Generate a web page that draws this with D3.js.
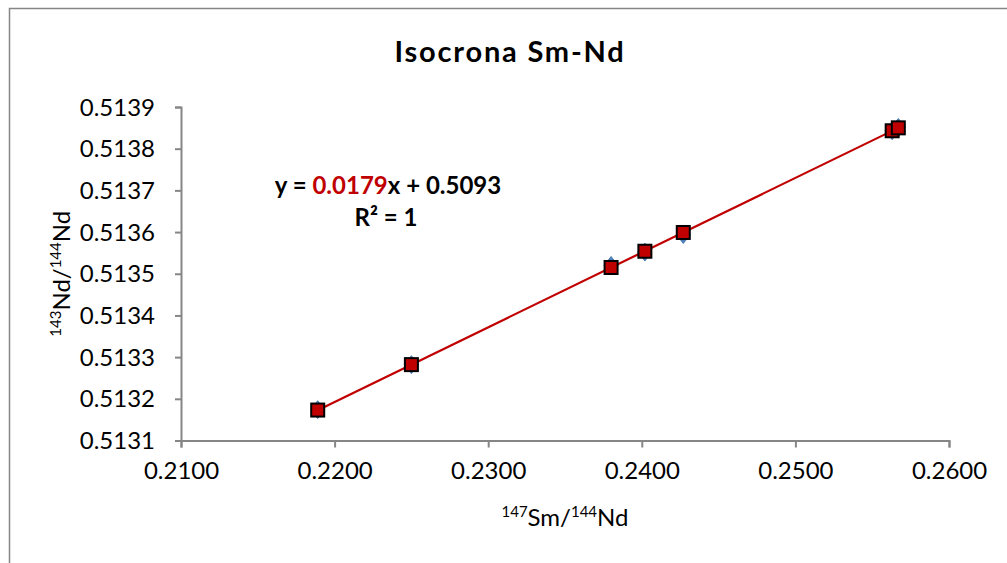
<!DOCTYPE html>
<html>
<head>
<meta charset="utf-8">
<script src="https://cdn.jsdelivr.net/npm/d3@7"></script>
<style>
  html, body { margin: 0; padding: 0; background: #ffffff; }
  svg { display: block; font-family: Lato, "Open Sans", sans-serif; }
</style>
</head>
<body>
<svg id="chart" width="1007" height="563"></svg>
<script>
// 147Sm/144Nd ratios of the analysed samples
const smNd = [0.2189, 0.2250, 0.2380, 0.2402, 0.2427, 0.2563, 0.2567];
// measured 143Nd/144Nd ratios
const ndMeasured = [0.513174, 0.513282, 0.513520, 0.513552, 0.513594, 0.513843, 0.513851];
// 143Nd/144Nd ratios on the isochron
const ndIsochron = [0.513173, 0.513282, 0.513515, 0.513554, 0.513599, 0.513843, 0.513850];

const xTicks = [0.21, 0.22, 0.23, 0.24, 0.25, 0.26];
const yTicks = [0.5131, 0.5132, 0.5133, 0.5134, 0.5135, 0.5136, 0.5137, 0.5138, 0.5139];

// equation label parts as printed
const eqSlope = "0.0179";
const eqIntercept = "0.5093";
const eqR2 = "1";

const svg = d3.select("#chart");
const W = 1007, H = 563;
const axisColor = "#868686";

// chart frame (runs off the right and bottom edges)
svg.append("rect")
  .attr("x", 9.5).attr("y", 8.5)
  .attr("width", W + 20).attr("height", H + 20)
  .attr("fill", "#fff").attr("stroke", axisColor).attr("stroke-width", 1.5);

const plot = { left: 181, right: 949, top: 107, bottom: 440.5 };

const x = d3.scaleLinear().domain([0.21, 0.26]).range([plot.left, plot.right]);
const y = d3.scaleLinear().domain([0.5131, 0.5139]).range([plot.bottom, plot.top]);

// title
svg.append("text")
  .attr("x", 510).attr("y", 62)
  .attr("text-anchor", "middle")
  .attr("font-size", 29).attr("font-weight", "bold").attr("fill", "#000")
  .attr("letter-spacing", 1.8)
  .text("Isocrona Sm-Nd");

// y axis
const yAxis = svg.append("g")
  .attr("transform", `translate(${plot.left},0)`)
  .call(d3.axisLeft(y).tickValues(yTicks).tickFormat(d3.format(".4f")).tickSize(6).tickPadding(20));
// x axis
const xAxis = svg.append("g")
  .attr("transform", `translate(0,${plot.bottom})`)
  .call(d3.axisBottom(x).tickValues(xTicks).tickFormat(d3.format(".4f")).tickSize(7).tickPadding(16));

[yAxis, xAxis].forEach(g => {
  g.select(".domain").attr("stroke", axisColor).attr("stroke-width", 2);
  g.selectAll(".tick line").attr("stroke", axisColor).attr("stroke-width", 2);
  g.selectAll(".tick text").attr("fill", "#000").attr("font-size", 24).attr("font-family", "Lato, sans-serif");
});
yAxis.selectAll(".tick text").attr("dy", "0.34em");
xAxis.selectAll(".tick text").attr("dy", "0.66em");

// axis titles with superscripted isotope masses
const xTitle = svg.append("text")
  .attr("x", (plot.left + plot.right) / 2).attr("y", 526)
  .attr("text-anchor", "middle").attr("font-size", 24).attr("fill", "#000");
xTitle.append("tspan").attr("font-size", 15).attr("dy", -9).text("147");
xTitle.append("tspan").attr("dy", 9).text("Sm/");
xTitle.append("tspan").attr("font-size", 15).attr("dy", -9).text("144");
xTitle.append("tspan").attr("dy", 9).text("Nd");

const yTitle = svg.append("text")
  .attr("transform", `translate(70,${(plot.top + plot.bottom) / 2}) rotate(-90)`)
  .attr("text-anchor", "middle").attr("font-size", 24).attr("fill", "#000");
yTitle.append("tspan").attr("font-size", 15).attr("dy", -9).text("143");
yTitle.append("tspan").attr("dy", 9).text("Nd/");
yTitle.append("tspan").attr("font-size", 15).attr("dy", -9).text("144");
yTitle.append("tspan").attr("dy", 9).text("Nd");

// least-squares isochron through the fitted points
const pts = smNd.map((v, i) => [v, ndIsochron[i]]);
const mx = d3.mean(smNd), my = d3.mean(ndIsochron);
const slope = d3.sum(pts, p => (p[0] - mx) * (p[1] - my)) / d3.sum(pts, p => (p[0] - mx) ** 2);
const intercept = my - slope * mx;
const [x0, x1] = d3.extent(smNd);

svg.append("line")
  .attr("x1", x(x0)).attr("y1", y(intercept + slope * x0))
  .attr("x2", x(x1)).attr("y2", y(intercept + slope * x1))
  .attr("stroke", "#C00000").attr("stroke-width", 2.2);

// measured points (diamonds)
svg.append("g").selectAll("path")
  .data(smNd.map((v, i) => [v, ndMeasured[i]]))
  .join("path")
  .attr("transform", d => `translate(${x(d[0])},${y(d[1])})`)
  .attr("d", "M0,-9L7,0L0,9L-7,0Z")
  .attr("fill", "#4F81BD").attr("stroke", "#3F6FA8").attr("stroke-width", 0.8);

// isochron points (squares)
svg.append("g").selectAll("rect")
  .data(pts)
  .join("rect")
  .attr("x", d => x(d[0]) - 6.5).attr("y", d => y(d[1]) - 6.5)
  .attr("width", 13).attr("height", 13)
  .attr("fill", "#C00000").attr("stroke", "#000").attr("stroke-width", 2);

// trendline equation
const eq = svg.append("text")
  .attr("x", 388).attr("y", 194)
  .attr("text-anchor", "middle").attr("font-size", 24).attr("font-weight", "bold").attr("fill", "#000");
eq.append("tspan").text("y = ");
eq.append("tspan").attr("fill", "#C00000").text(eqSlope);
eq.append("tspan").text("x + " + eqIntercept);

svg.append("text")
  .attr("x", 386).attr("y", 226)
  .attr("text-anchor", "middle").attr("font-size", 24).attr("font-weight", "bold").attr("fill", "#000")
  .text("R² = " + eqR2);
</script>
</body>
</html>
